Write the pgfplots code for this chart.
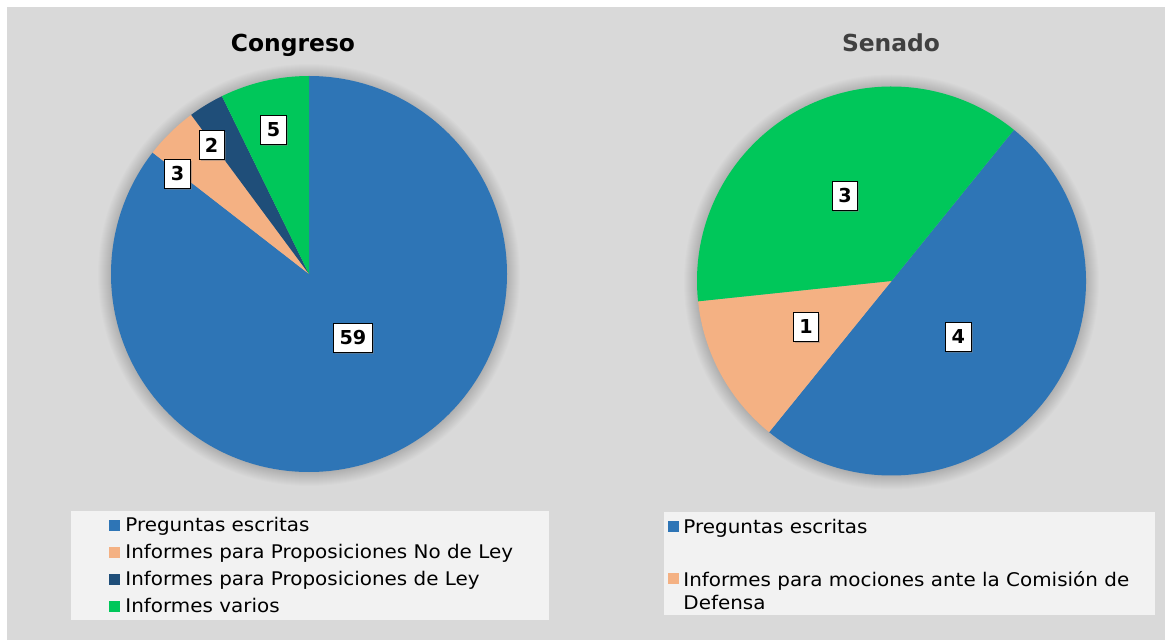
\documentclass[border=0pt]{standalone}
\usepackage{pgfplots}
\usepackage{pgfplotstable}
\pgfplotsset{compat=1.18}
\usetikzlibrary{shadows}
\usepackage{fontspec}
\setmainfont{DejaVu Sans}
\newfontfamily\legfont[FakeStretch=1.06]{DejaVu Sans}

\definecolor{cblue}{HTML}{2E75B6}
\definecolor{corange}{HTML}{F4B183}
\definecolor{cdark}{HTML}{1F4E79}
\definecolor{cgreen}{HTML}{00C75A}
\definecolor{bg}{HTML}{D9D9D9}
\definecolor{legbg}{HTML}{F2F2F2}
\definecolor{subgray}{HTML}{404040}

% value, slice colour, label position (in radii)
\pgfplotstableread{
value color lx ly
59 cblue 0.222 -0.321
3 corange -0.664 0.505
2 cdark -0.492 0.652
5 cgreen -0.179 0.730
}\congreso

\pgfplotstableread{
value color lx ly
4 cblue 0.344 -0.285
1 corange -0.440 -0.234
3 cgreen -0.239 0.440
}\senado

\tikzset{lab/.style={fill=white, draw=black, line width=0.4pt,
  font=\fontsize{9.6}{11}\selectfont\bfseries, inner xsep=3pt, inner ysep=0pt,
  minimum width=12.5pt, minimum height=14.5pt,
  drop shadow={shadow xshift=0.8pt, shadow yshift=-0.8pt, opacity=0.45}}}

% #1 table, #2 angle of first slice (deg, counter-clockwise from x), #3 radius
\newcommand{\drawpie}[3]{%
  \pgfplotstablegetrowsof{#1}\pgfmathtruncatemacro\last{\pgfplotsretval-1}%
  \def\tot{0}%
  \pgfplotsforeachungrouped \i in {0,...,\last}{%
    \pgfplotstablegetelem{\i}{value}\of#1%
    \pgfmathsetmacro\tot{\tot+\pgfplotsretval}}%
  \def\cum{0}%
  \pgfplotsforeachungrouped \i in {0,...,\last}{%
    \pgfplotstablegetelem{\i}{value}\of#1\let\val\pgfplotsretval
    \pgfplotstablegetelem{\i}{color}\of#1\let\col\pgfplotsretval
    \pgfmathsetmacro\a{#2-360*(\cum/\tot)}%
    \pgfmathsetmacro\cum{\cum+\val}%
    \pgfmathsetmacro\b{#2-360*(\cum/\tot)}%
    \edef\temp{\noexpand\fill[\col] (axis cs:0,0) -- (axis cs:{cos(\a)},{sin(\a)})
      arc[start angle=\a, end angle=\b, radius=#3] -- cycle;}%
    \temp}%
  \pgfplotsforeachungrouped \i in {0,...,\last}{%
    \pgfplotstablegetelem{\i}{value}\of#1\let\val\pgfplotsretval
    \pgfplotstablegetelem{\i}{lx}\of#1\let\lx\pgfplotsretval
    \pgfplotstablegetelem{\i}{ly}\of#1\let\ly\pgfplotsretval
    \edef\temp{\noexpand\node[lab] at (axis cs:\lx,\ly) {\val};}%
    \temp}%
}

\pgfplotsset{pie/.style={hide axis, scale only axis, clip=false,
  xmin=-1, xmax=1, ymin=-1, ymax=1, enlargelimits=false, anchor=center}}

\begin{document}
\begin{tikzpicture}[x=0.5pt, y=-0.5pt]
% background (pixel coordinates)
\fill[white] (0,0) rectangle (1165,640);
\fill[bg] (7,7) rectangle (1165,640);

% soft shadows round the pies
\foreach \k in {1,...,14} {
  \fill[black, opacity=0.011] (309,275) circle[radius=197+\k];
  \fill[black, opacity=0.011] (891.5,282) circle[radius=193.5+\k];
}

\node[font=\fontsize{11.7}{14}\selectfont\bfseries] at (293,45) {Congreso};
\node[font=\fontsize{11.7}{14}\selectfont\bfseries, text=subgray] at (891,43) {Senado};

\begin{axis}[pie, at={(154.5pt,-137pt)}, width=198pt, height=198pt]
\drawpie{\congreso}{90}{99pt}
\end{axis}

\begin{axis}[pie, at={(445.75pt,-140.5pt)}, width=194.5pt, height=194.5pt]
\drawpie{\senado}{51}{97.25pt}
\end{axis}

% legend Congreso
\fill[legbg] (71,511) rectangle (549,620);
\foreach \c/\y/\t in {cblue/525/Preguntas escritas,
                      corange/552/Informes para Proposiciones No de Ley,
                      cdark/579/Informes para Proposiciones de Ley,
                      cgreen/606/Informes varios} {
  \fill[\c] (109,\y-5.5) rectangle (120,\y+5.5);
  \node[anchor=base west, inner sep=0pt, font=\legfont\fontsize{9.4}{11.5}\selectfont]
    at (125,\y+6.8) {\t};
}

% legend Senado
\fill[legbg] (664,512) rectangle (1155,615);
\fill[cblue] (668,521) rectangle (679,532);
\node[anchor=base west, inner sep=0pt, font=\legfont\fontsize{9.4}{11.5}\selectfont]
  at (683,533) {Preguntas escritas};
\fill[corange] (668,573) rectangle (679,584);
\node[anchor=base west, inner sep=0pt, align=left, font=\legfont\fontsize{9.4}{11.5}\selectfont]
  at (683,609) {Informes para mociones ante la Comisión de\\Defensa};
\end{tikzpicture}
\end{document}
